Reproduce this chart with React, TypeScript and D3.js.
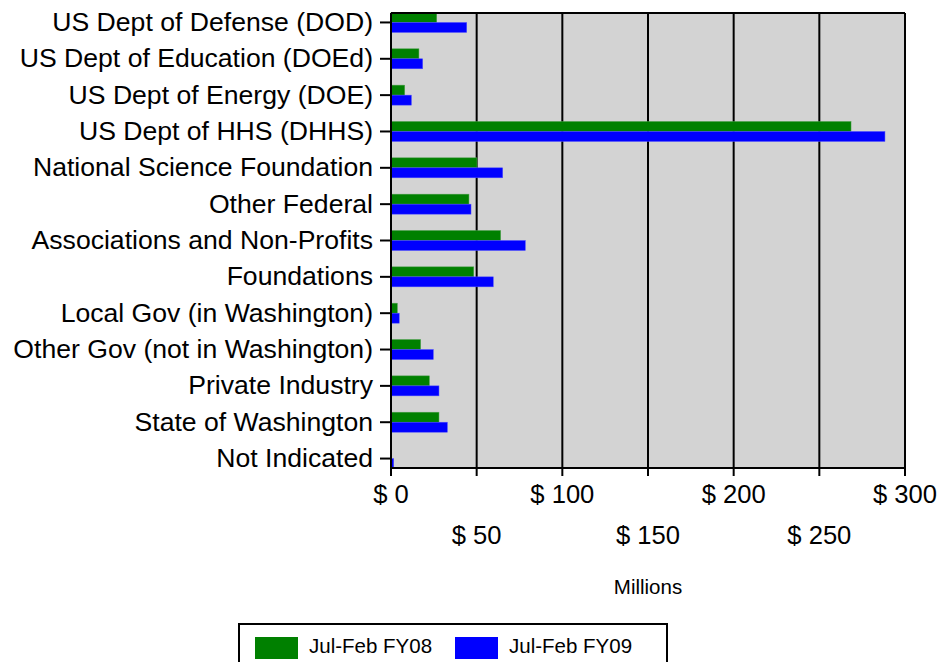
import React from "react";
import * as d3 from "d3";

const categories = [
  "US Dept of Defense (DOD)",
  "US Dept of Education (DOEd)",
  "US Dept of Energy (DOE)",
  "US Dept of HHS (DHHS)",
  "National Science Foundation",
  "Other Federal",
  "Associations and Non-Profits",
  "Foundations",
  "Local Gov (in Washington)",
  "Other Gov (not in Washington)",
  "Private Industry",
  "State of Washington",
  "Not Indicated",
];
const fy08 = [26.7, 16.3, 8.0, 268.5, 50.2, 45.5, 64.0, 48.3, 3.7, 17.3, 22.4, 28.0, 0];
const fy09 = [44.2, 18.5, 11.9, 288.3, 65.2, 46.7, 78.4, 59.7, 4.8, 24.7, 28.0, 32.9, 1.6];
const xTicks = [0, 50, 100, 150, 200, 250, 300];
const seriesNames = ["Jul-Feb FY08", "Jul-Feb FY09"];
const seriesColors = ["#008000", "#0000ff"];

const W = 941;
const H = 662;
const L = 391;
const R = 905;
const T = 13;
const B = 468;
const FONT = "'Liberation Sans', Arial, sans-serif";

export default function App() {
  const x = d3.scaleLinear().domain([0, 300]).range([L, R]);
  const y = d3.scalePoint<string>().domain(categories).range([T, B]).padding(0.26);
  const barH = 10;

  return (
    <svg
      width={W}
      height={H}
      style={{ position: "absolute", left: 0, top: 0, display: "block" }}
      fontFamily={FONT}
    >
      <rect x={0} y={0} width={W} height={H} fill="#ffffff" />
      <rect x={L} y={T} width={R - L} height={B - T} fill="#d3d3d3" />
      {xTicks.slice(1).map((t) => (
        <line key={t} x1={x(t)} x2={x(t)} y1={T} y2={B} stroke="#000" strokeWidth={2} />
      ))}
      {categories.map((c, i) => {
        const yc = y(c)!;
        return (
          <g key={c}>
            {fy08[i] > 0 && (
              <rect
                x={x(0)}
                y={yc - barH}
                width={x(fy08[i]) - x(0)}
                height={barH}
                fill={seriesColors[0]}
                stroke="#4fa04f"
                strokeWidth={0.5}
              />
            )}
            {fy09[i] > 0 && (
              <rect
                x={x(0)}
                y={yc}
                width={x(fy09[i]) - x(0)}
                height={barH}
                fill={seriesColors[1]}
                stroke="#5050ff"
                strokeWidth={0.5}
              />
            )}
            <line x1={380} x2={L} y1={yc} y2={yc} stroke="#000" strokeWidth={2} />
            <text x={373} y={yc + 8.5} textAnchor="end" fontSize={26.6} fill="#000">
              {c}
            </text>
          </g>
        );
      })}
      {/* frame */}
      <line x1={L} x2={R} y1={T} y2={T} stroke="#000" strokeWidth={2} />
      <line x1={R} x2={R} y1={T} y2={B} stroke="#000" strokeWidth={2} />
      <line x1={L} x2={L} y1={T} y2={B} stroke="#000" strokeWidth={2} />
      <line x1={L - 1} x2={R + 1} y1={B} y2={B} stroke="#000" strokeWidth={2} />
      {xTicks.map((t, i) => (
        <g key={t}>
          <line x1={x(t)} x2={x(t)} y1={B} y2={B + 8} stroke="#000" strokeWidth={2} />
          <text
            x={x(t)}
            y={i % 2 === 0 ? 503 : 544}
            textAnchor="middle"
            fontSize={25.6}
            fill="#000"
          >
            {`$ ${t}`}
          </text>
        </g>
      ))}
      <text x={(L + R) / 2} y={594} textAnchor="middle" fontSize={20.5} fill="#000">
        Millions
      </text>
      <rect x={239} y={624} width={428} height={50} fill="#fff" stroke="#000" strokeWidth={2} />
      {seriesNames.map((s, i) => {
        const sx = i === 0 ? 255 : 455;
        return (
          <g key={s}>
            <rect x={sx} y={637} width={43} height={22} fill={seriesColors[i]} />
            <text x={sx + 54} y={653} fontSize={20.5} fill="#000">
              {s}
            </text>
          </g>
        );
      })}
    </svg>
  );
}
